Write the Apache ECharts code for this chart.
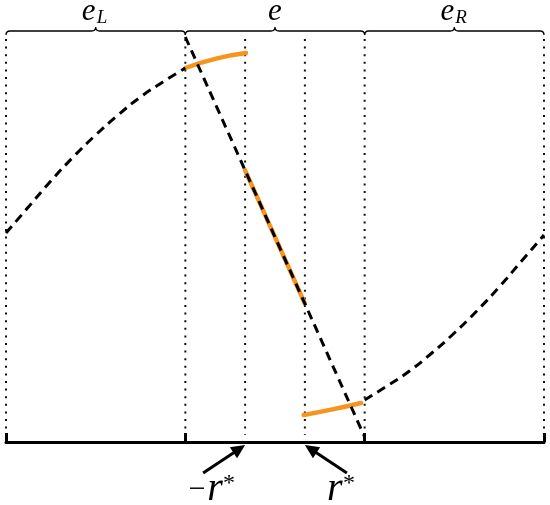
<!DOCTYPE html>
<html><head><meta charset="utf-8">
<script src="https://cdn.jsdelivr.net/npm/echarts@6/dist/echarts.min.js"></script>
<style>html,body{margin:0;padding:0;background:#fff}#c{width:550px;height:505px}</style>
</head><body><div id="c"></div>
<script>
// ---- data ----
const cellBounds = [0, 1, 2, 3];
const cellSubs = ['L', '', 'R'];
const dividerX = [0, 1, 4/3, 5/3, 2, 3];
const rStarX = [4/3, 5/3];
const rStarSigns = ['−', ''];
const leftX  = [0, 0.125, 0.25, 0.375, 0.5, 0.625, 0.75, 0.875, 1.0];
const leftY  = [0.02, 0.15, 0.28, 0.40, 0.51, 0.61, 0.70, 0.775, 0.845];
const midX   = [1, 2];
const midY   = [1, -1];
const rightX = [2.0, 2.125, 2.25, 2.375, 2.5, 2.625, 2.75, 2.875, 3.0];
const rightY = [-0.815, -0.745, -0.67, -0.58, -0.48, -0.37, -0.25, -0.12, 0.01];
const orangeTopX = [1.0, 1.177, 1.338];
const orangeTopY = [0.845, 0.893, 0.92];
const orangeMidX = [4/3, 5/3];
const orangeMidY = [1/3, -1/3];
const orangeBotX = [1.66, 1.82, 1.98];
const orangeBotY = [-0.89, -0.862, -0.83];
const Y_MIN = -1.025, Y_MAX = 1;
const BRACE_V = 1.03, DIV_TOP = 0.99, DIV_BOT = -0.99;

const pairs = (xs, ys) => xs.map((x, i) => [x, ys[i]]);
const ORANGE = '#f7931e';
const SERIF = '"Liberation Serif", "Times New Roman", serif';
const fnt = (size, italic) => (italic ? 'italic ' : '') + size + 'px ' + SERIF;

const chart = echarts.init(document.getElementById('c'));

function orangeSeries(xs, ys) {
  return { type: 'line', data: pairs(xs, ys), smooth: true, showSymbol: false, clip: false,
    lineStyle: { color: ORANGE, width: 4.5, cap: 'round' }, z: 3, silent: true };
}
function dashedSeries(xs, ys) {
  return { type: 'line', data: pairs(xs, ys), smooth: true, showSymbol: false, clip: false,
    lineStyle: { color: '#000', width: 3, type: [9, 6] }, z: 4, silent: true };
}
function txt(x, y, text, size, italic, align) {
  return { type: 'text', x, y, style: { text, font: fnt(size, italic), fontSize: size,
    fontStyle: italic ? 'italic' : 'normal', fontFamily: SERIF, fill: '#000',
    align: align || 'center', verticalAlign: 'middle' } };
}

chart.setOption({
  animation: false,
  backgroundColor: '#fff',
  grid: { left: 6, right: 6, top: 37, bottom: 63, containLabel: false, outerBoundsMode: 'none' },
  xAxis: { type: 'value', min: 0, max: 3, interval: 1,
    axisLine: { onZero: false, lineStyle: { color: '#000', width: 3 } },
    axisTick: { inside: true, length: 9, lineStyle: { color: '#000', width: 3 } },
    axisLabel: { show: false }, splitLine: { show: false } },
  yAxis: { type: 'value', min: Y_MIN, max: Y_MAX, show: false, splitLine: { show: false } },
  series: [
    { type: 'custom', data: dividerX.map(x => [x]), clip: false, z: 1, silent: true,
      renderItem: (p, api) => {
        const a = api.coord([api.value(0), DIV_TOP]), b = api.coord([api.value(0), DIV_BOT]);
        return { type: 'line', shape: { x1: a[0], y1: a[1], x2: b[0], y2: b[1] },
          style: { stroke: '#111', lineWidth: 2, lineDash: [2, 5.6] } };
      } },
    orangeSeries(orangeTopX, orangeTopY),
    orangeSeries(orangeMidX, orangeMidY),
    orangeSeries(orangeBotX, orangeBotY),
    dashedSeries(leftX, leftY),
    dashedSeries(midX, midY),
    dashedSeries(rightX, rightY),
    { type: 'custom', data: cellSubs.map((s, i) => [cellBounds[i], cellBounds[i + 1]]), clip: false, z: 5, silent: true,
      renderItem: (p, api) => {
        const a = api.coord([api.value(0), BRACE_V]), b = api.coord([api.value(1), BRACE_V]);
        const y = a[1], m = (a[0] + b[0]) / 2, c = 4, h = 4;
        const d = `M${a[0]} ${y + h} Q${a[0]} ${y} ${a[0] + c} ${y} L${m - c} ${y} Q${m} ${y} ${m} ${y - h} ` +
                  `Q${m} ${y} ${m + c} ${y} L${b[0] - c} ${y} Q${b[0]} ${y} ${b[0]} ${y + h}`;
        const sub = cellSubs[p.dataIndex];
        const children = [
          { type: 'path', shape: { pathData: d }, style: { fill: null, stroke: '#000', lineWidth: 1.3 } }
        ];
        const ex = sub ? m - 7 : m;
        children.push(txt(ex, y - 19, 'e', 31, true));
        if (sub) children.push(txt(ex + 8, y - 13, sub, 19, true, 'left'));
        return { type: 'group', children };
      } },
    { type: 'custom', data: rStarX.map(x => [x]), clip: false, z: 6, silent: true,
      renderItem: (p, api) => {
        const base = api.coord([api.value(0), Y_MIN]);
        const dir = p.dataIndex === 0 ? -1 : 1;
        const tip = [base[0], base[1] + 3];
        const tail = [base[0] + dir * 42, base[1] + 31];
        const dx = tip[0] - tail[0], dy = tip[1] - tail[1], len = Math.hypot(dx, dy);
        const ux = dx / len, uy = dy / len, hl = 14, hw = 6.5;
        const hb = [tip[0] - ux * hl, tip[1] - uy * hl];
        const l = [hb[0] - uy * hw, hb[1] + ux * hw], r = [hb[0] + uy * hw, hb[1] - ux * hw];
        const sign = rStarSigns[p.dataIndex];
        const rx = p.dataIndex === 0 ? tail[0] + 12 : tail[0] - 12;
        const ty = tail[1] + 16;
        const children = [
          { type: 'line', shape: { x1: tail[0], y1: tail[1], x2: hb[0] + ux * 2, y2: hb[1] + uy * 2 }, style: { stroke: '#000', lineWidth: 3 } },
          { type: 'polygon', shape: { points: [tip, l, r] }, style: { fill: '#000' } },
          txt(rx, ty, 'r', 40, true),
          txt(rx + 14, ty - 5, '*', 24, false)
        ];
        if (sign) children.push(txt(rx - 18, ty + 1, sign, 30, false));
        return { type: 'group', children };
      } }
  ]
});
</script></body></html>
